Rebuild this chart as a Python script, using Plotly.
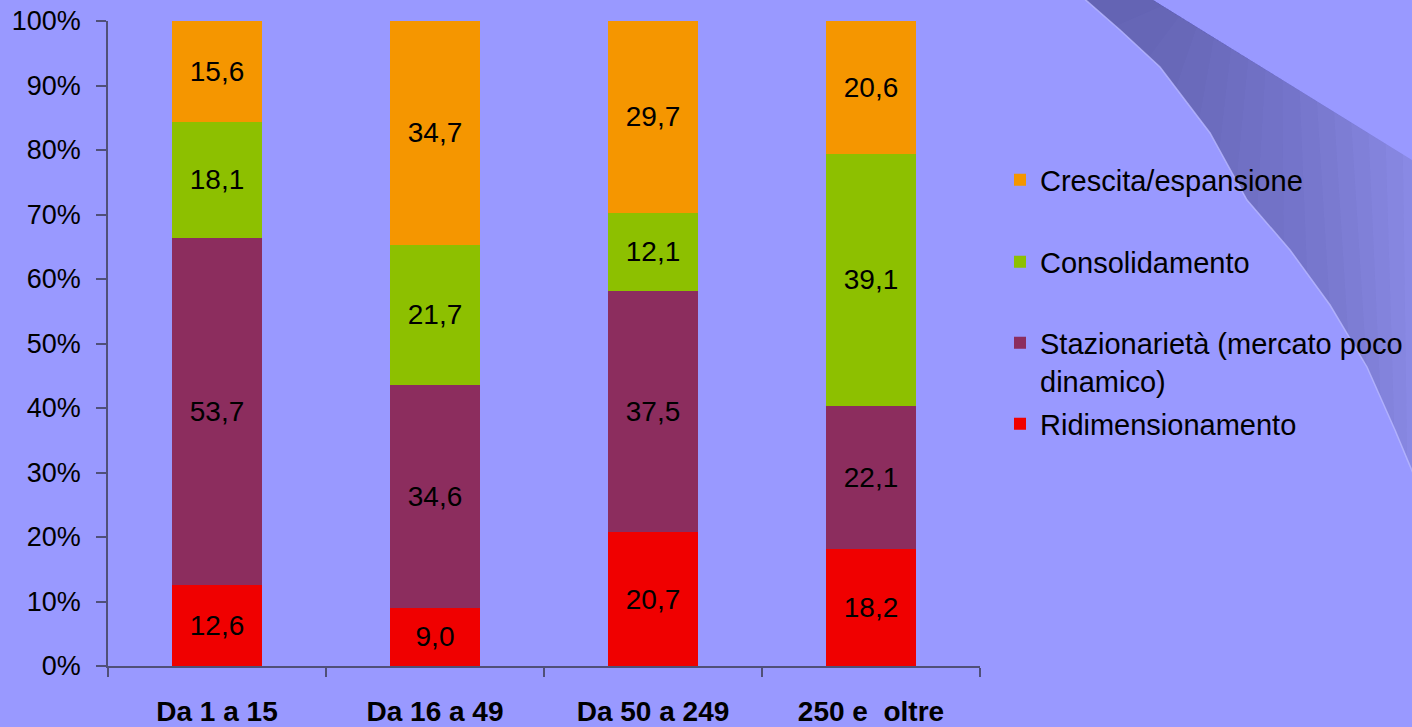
import plotly.graph_objects as go

categories = ["Da 1 a 15", "Da 16 a 49", "Da 50 a 249", "250 e  oltre"]
series_names = ["Ridimensionamento", "Stazionarietà (mercato poco<br>dinamico)",
                "Consolidamento", "Crescita/espansione"]
ridimensionamento = [12.6, 9.0, 20.7, 18.2]
stazionarieta = [53.7, 34.6, 37.5, 22.1]
consolidamento = [18.1, 21.7, 12.1, 39.1]
crescita = [15.6, 34.7, 29.7, 20.6]
y_ticks = [0, 10, 20, 30, 40, 50, 60, 70, 80, 90, 100]
y_tick_labels = ["0%", "10%", "20%", "30%", "40%", "50%", "60%", "70%", "80%", "90%", "100%"]

colors = ["#F00000", "#8C2D5E", "#8DC000", "#F59600"]
values = [ridimensionamento, stazionarieta, consolidamento, crescita]
legend_ids = ["legend4", "legend3", "legend2", "legend"]

FONT = "Arial, 'Liberation Sans', sans-serif"
W, H = 1412, 727
ML, MR, MT, MB = 108, 432, 21, 61
PW, PH = W - ML - MR, H - MT - MB


def px(x):
    return (x - ML) / PW


def py(y):
    return (H - MB - y) / PH


fig = go.Figure()
for name, vals, col, lg in zip(series_names, values, colors, legend_ids):
    fig.add_trace(go.Bar(
        x=categories, y=vals, name=name, legend=lg,
        marker=dict(color=col, line=dict(width=0)),
        text=[f"{v:.1f}".replace(".", ",") for v in vals],
        textposition="inside", insidetextanchor="middle", textangle=0,
        textfont=dict(family=FONT, size=28, color="black"),
        hoverinfo="skip",
    ))

# decorative swoosh (background): lower (left) edge and upper (right) edge
lower = [(1080, -5), (1120, 30), (1160, 67), (1210, 133), (1247, 200),
         (1290, 250), (1330, 305), (1367, 367), (1395, 430), (1420, 490)]
upper = [(1145, -5), (1420, 165)]


def to_path(points, close=True):
    s = "M " + " L ".join(f"{px(x):.4f},{py(y):.4f}" for x, y in points)
    return s + (" Z" if close else "")


def along(poly, f):
    # point at fraction f of the polyline's y-extent (for a decorative gradient)
    y0, y1 = poly[0][1], poly[-1][1]
    yt = y0 + (y1 - y0) * f
    out = [poly[0]]
    for (xa, ya), (xb, yb) in zip(poly[:-1], poly[1:]):
        if yb < yt:
            out.append((xb, yb))
        else:
            t = (yt - ya) / (yb - ya)
            out.append((xa + (xb - xa) * t, yt))
            break
    return out


shapes = [dict(type="path", path=to_path(lower + upper[::-1]), xref="paper", yref="paper",
               layer="below", fillcolor="#8989e4", line=dict(width=0))]
steps = 16
for k in range(1, steps):
    f = k / steps
    part = along(lower, f)
    ux = upper[0][0] + (upper[1][0] - upper[0][0]) * f
    uy = upper[0][1] + (upper[1][1] - upper[0][1]) * f
    shapes.append(dict(type="path", path=to_path(part + [(ux, uy), upper[0]]),
                       xref="paper", yref="paper", layer="below",
                       fillcolor="rgba(75,75,145,0.045)", line=dict(width=0)))
shapes.append(dict(type="path", path=to_path(lower, close=False),
                   xref="paper", yref="paper", layer="below",
                   line=dict(color="rgba(185,185,255,0.8)", width=1.5)))

leg_common = dict(font=dict(family=FONT, size=29, color="black"),
                  bgcolor="rgba(0,0,0,0)", x=px(1000), xanchor="left",
                  yanchor="middle", valign="top", itemclick=False, itemdoubleclick=False)

fig.update_layout(
    width=W, height=H,
    margin=dict(l=ML, r=MR, t=MT, b=MB, autoexpand=False),
    paper_bgcolor="#9999FF", plot_bgcolor="#9999FF",
    barmode="stack", bargap=0.59,
    showlegend=True,
    legend=dict(y=py(180), **leg_common),
    legend2=dict(y=py(262), **leg_common),
    legend3=dict(y=py(362), **leg_common),
    legend4=dict(y=py(424), **leg_common),
    shapes=shapes,
    xaxis=dict(
        type="category", showline=True, linecolor="#505078", linewidth=1.5,
        ticks="outside", ticklen=9, tickcolor="#505078", tickwidth=1.5,
        tickson="boundaries", showgrid=False, automargin=False,
        tickfont=dict(family=FONT, size=28, color="black", weight="bold"),
        ticklabelstandoff=20,
    ),
    yaxis=dict(
        range=[0, 100], tickmode="array", tickvals=y_ticks, ticktext=y_tick_labels,
        showline=True, linecolor="#505078", linewidth=1.5,
        ticks="outside", ticklen=10, tickcolor="#505078", tickwidth=1.5,
        showgrid=False, zeroline=False, automargin=False,
        tickfont=dict(family=FONT, size=27, color="black"),
        ticklabelstandoff=10,
    ),
)

fig.write_html("out.html", config={"displayModeBar": False},
               post_script="document.body.style.margin='0';")
